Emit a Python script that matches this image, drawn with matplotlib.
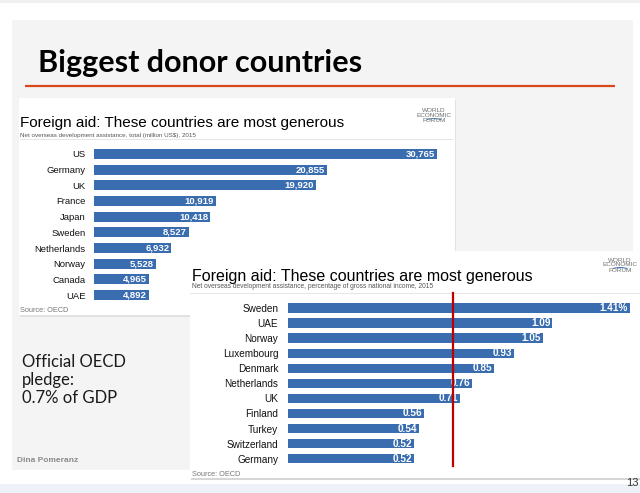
import matplotlib
matplotlib.use("Agg")
import matplotlib.pyplot as plt
from matplotlib.patches import Rectangle, Arc

# ---------------- data ----------------
total_countries = ["US", "Germany", "UK", "France", "Japan", "Sweden",
                   "Netherlands", "Norway", "Canada", "UAE"]
total_values = [30765, 20855, 19920, 10919, 10418, 8527, 6932, 5528, 4965, 4892]
total_labels = ["30,765", "20,855", "19,920", "10,919", "10,418", "8,527",
                "6,932", "5,528", "4,965", "4,892"]

share_countries = ["Sweden", "UAE", "Norway", "Luxembourg", "Denmark",
                   "Netherlands", "UK", "Finland", "Turkey", "Switzerland", "Germany"]
share_values = [1.41, 1.09, 1.05, 0.93, 0.85, 0.76, 0.71, 0.56, 0.54, 0.52, 0.52]
share_labels = ["1.41%", "1.09", "1.05", "0.93", "0.85", "0.76", "0.71",
                "0.56", "0.54", "0.52", "0.52"]
pledge_line = 0.68

# ---------------- style ----------------
W, H = 640, 493
BAR = "#3a6db0"
SANS = ["Liberation Sans", "DejaVu Sans"]
plt.rcParams["font.family"] = SANS

fig = plt.figure(figsize=(W / 100, H / 100), dpi=100)
fig.patch.set_facecolor("white")


def px_rect(l, t, r, b):
    return [l / W, 1 - b / H, (r - l) / W, (b - t) / H]


bg = fig.add_axes([0, 0, 1, 1], zorder=0)
bg.set_xlim(0, W)
bg.set_ylim(H, 0)
bg.axis("off")

# slide background pieces
bg.add_patch(Rectangle((0, 0), W, 3, color="#eef0f2", lw=0))
bg.add_patch(Rectangle((12, 20), 621, 450, color="#f4f4f4", lw=0))
bg.add_patch(Rectangle((0, 484), W, 9, color="#eef2f8", lw=0))

# slide title and rule
bg.text(38, 63, "Biggest donor countries", fontsize=22, fontweight="bold",
        family=["Lato", "DejaVu Sans"], va="center", ha="left", color="black")
bg.plot([25, 615], [86, 86], color="#d9461c", lw=1.6, solid_capstyle="butt")

# left notes
bg.text(22, 380, "Official OECD\npledge:\n0.7% of GDP", fontsize=12,
        family=["Lato", "DejaVu Sans"], va="center", ha="left",
        color="#1a1a1a", linespacing=1.15)
bg.text(17, 460, "Dina Pomeranz", fontsize=6, fontweight="bold",
        va="center", ha="left", color="#8a8a8a")
bg.text(626, 483, "13", fontsize=8, va="center", ha="left", color="#333333")

# chart boxes (with faint shadow)
bg.add_patch(Rectangle((20, 100), 436, 217, color="#e2e2e2", lw=0))
bg.add_patch(Rectangle((19, 98), 436, 217, color="white", lw=0))
bg.add_patch(Rectangle((191, 253), 449, 227, color="#d6d6d6", lw=0))
bg.add_patch(Rectangle((190, 251), 450, 227, color="white", lw=0))


def wef_logo(x, y, step):
    for k, word in enumerate(["WORLD", "ECONOMIC", "FORUM"]):
        bg.text(x, y + k * step, word, fontsize=4.6, ha="center",
                va="center", color="#6e6e6e")
    bg.add_patch(Arc((x, y + 2.2 * step), 20, 7, theta1=200, theta2=340,
                     color="#3a78b8", lw=0.7))


# chart 1 header
bg.text(20, 123.5, "Foreign aid: These countries are most generous", fontsize=11,
        va="center", ha="left", color="black")
bg.text(20, 135.5, "Net overseas development assistance, total (million US$), 2015",
        fontsize=4.5, va="center", ha="left", color="#555555")
bg.plot([20, 453], [139, 139], color="#e2e2e2", lw=0.6)
bg.text(20, 311, "Source: OECD", fontsize=5.3, va="center", ha="left", color="#777777")
wef_logo(434, 110, 5.5)

# chart 2 header
bg.text(192, 276, "Foreign aid: These countries are most generous", fontsize=11.5,
        va="center", ha="left", color="black")
bg.text(192, 287, "Net overseas development assistance, percentage of gross national income, 2015",
        fontsize=4.8, va="center", ha="left", color="#555555")
bg.plot([190, 640], [292.5, 292.5], color="#e2e2e2", lw=0.6)
bg.text(192, 474, "Source: OECD", fontsize=5.3, va="center", ha="left", color="#777777")
wef_logo(620, 260, 5.0)

# ---------------- chart 1 bars ----------------
ax1 = fig.add_axes(px_rect(94, 146, 437, 303), zorder=2)
ax1.patch.set_alpha(0)
y1 = list(range(len(total_countries)))
ax1.barh(y1, total_values, height=0.64, color=BAR)
ax1.set_xlim(0, max(total_values))
ax1.set_ylim(len(total_countries) - 0.5, -0.5)
ax1.set_yticks(y1)
ax1.set_yticklabels(total_countries, fontsize=6.8, color="#111111")
ax1.tick_params(axis="y", length=0, pad=6)
ax1.set_xticks([])
for s in ax1.spines.values():
    s.set_visible(False)
for i, (v, lab) in enumerate(zip(total_values, total_labels)):
    ax1.annotate(lab, (v, i), xytext=(-2, 0), textcoords="offset pixels",
                 ha="right", va="center", color="white", fontsize=6.8,
                 fontweight="bold")

# ---------------- chart 2 bars ----------------
ax2 = fig.add_axes(px_rect(288, 300.5, 630, 466.2), zorder=3)
ax2.patch.set_alpha(0)
y2 = list(range(len(share_countries)))
ax2.barh(y2, share_values, height=0.62, color=BAR)
ax2.set_xlim(0, max(share_values))
ax2.set_ylim(len(share_countries) - 0.5, -0.5)
ax2.set_yticks(y2)
ax2.set_yticklabels(share_countries, fontsize=7.2, color="#111111")
ax2.tick_params(axis="y", length=0, pad=7)
ax2.set_xticks([])
for s in ax2.spines.values():
    s.set_visible(False)
for i, (v, lab) in enumerate(zip(share_values, share_labels)):
    ax2.annotate(lab, (v, i), xytext=(-2, 0), textcoords="offset pixels",
                 ha="right", va="center", color="white", fontsize=7.2,
                 fontweight="bold")
ax2.plot([pledge_line, pledge_line], [len(share_countries) - 0.5, -1.02],
         color="#c00000", lw=1.6, clip_on=False, zorder=5)

fig.savefig("out.png", dpi=100, facecolor="white")
